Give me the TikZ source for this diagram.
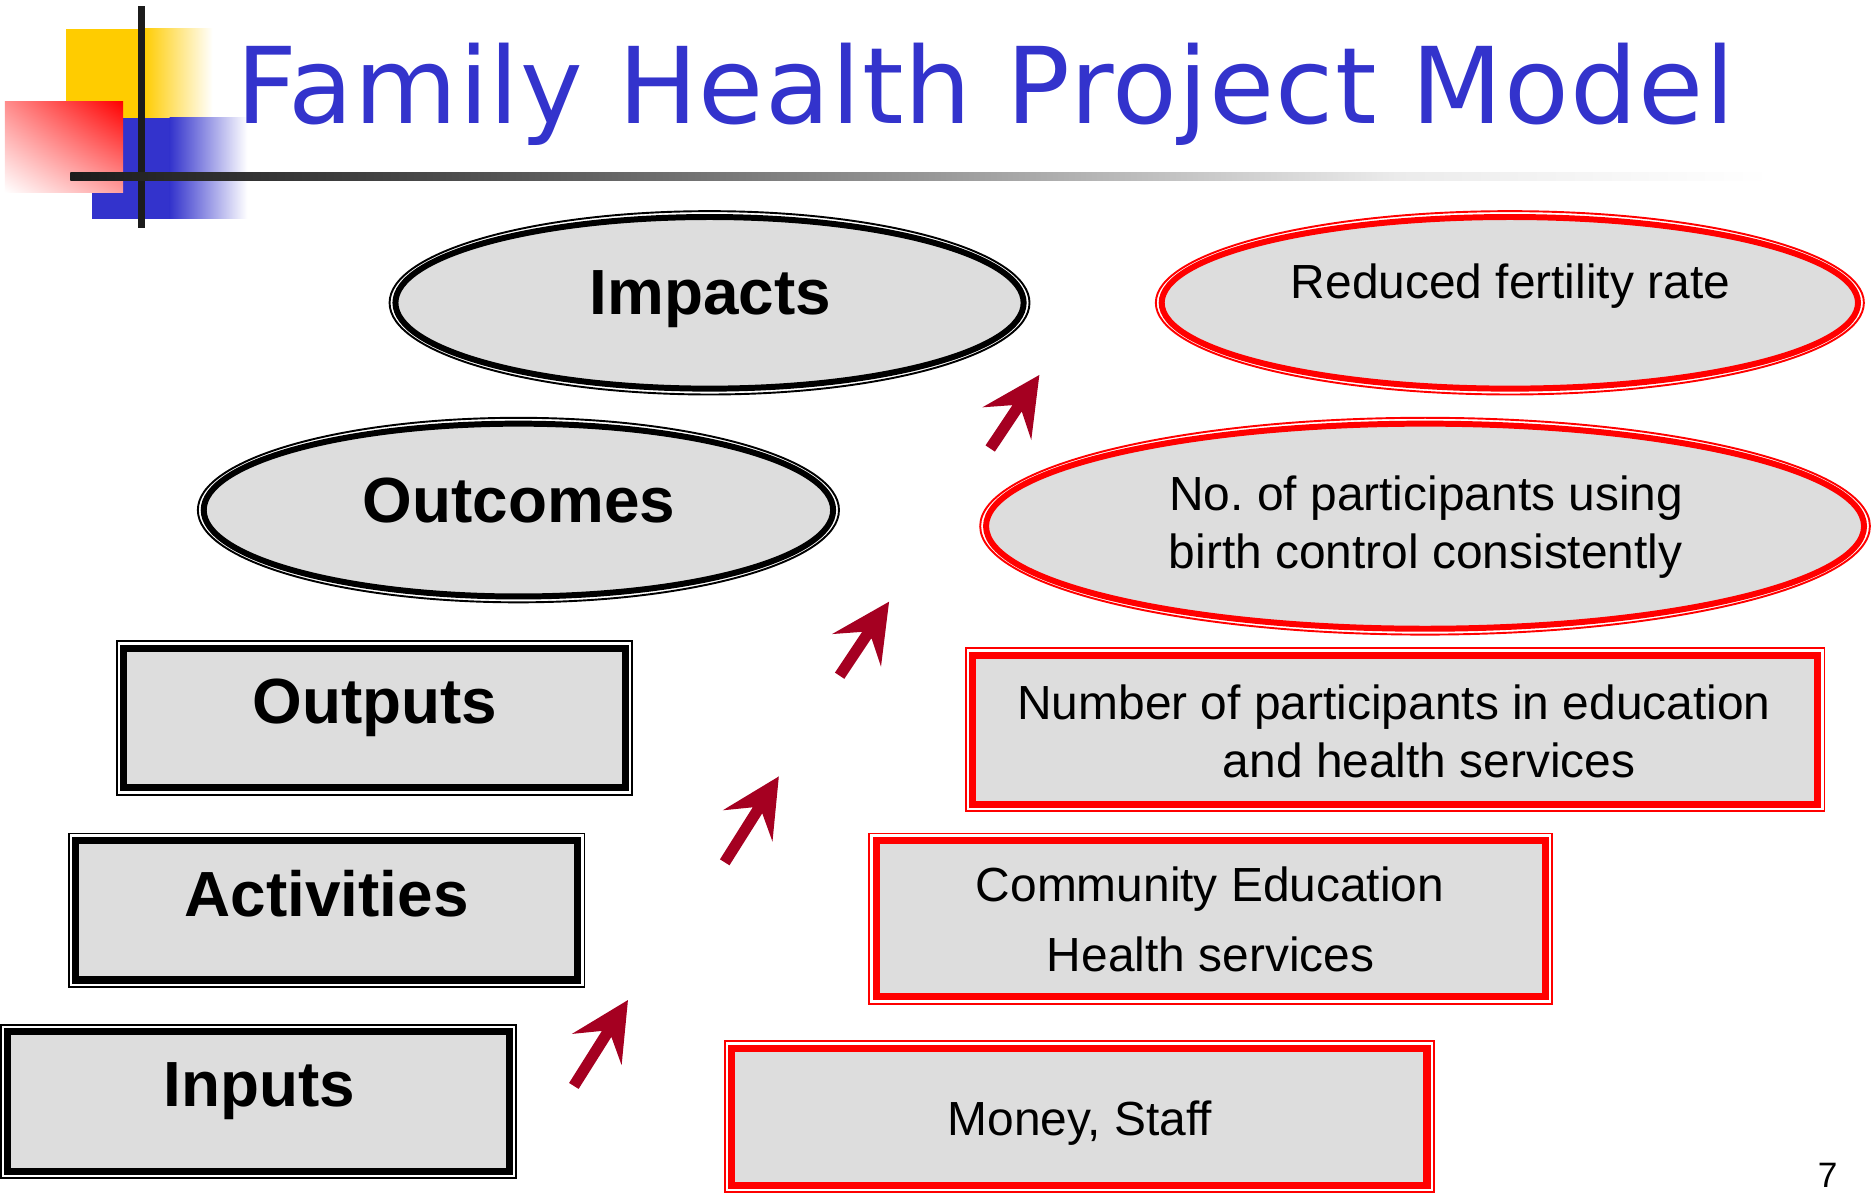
\documentclass[tikz,border=0pt]{standalone}
\usepackage{fontspec}
\setmainfont{Liberation Sans}
\newfontfamily\titlefont[LetterSpace=1.2]{DejaVu Sans}
\usetikzlibrary{shapes.geometric,shadings}
\frenchspacing
\definecolor{titleblue}{HTML}{3333CC}
\definecolor{boxgray}{HTML}{DDDDDD}
\definecolor{arrowred}{HTML}{A50021}
\definecolor{logoyellow}{HTML}{FFCC00}
\definecolor{logoblue}{HTML}{3333CC}
\definecolor{barblack}{HTML}{1C1C1C}
\definecolor{hlzero}{HTML}{1C1C1C}
\definecolor{hlone}{HTML}{464646}
\definecolor{hltwo}{HTML}{969696}
\definecolor{hlthree}{HTML}{EBEBEB}
\pgfdeclarehorizontalshading{hfade}{100bp}{color(0bp)=(hlzero); color(25bp)=(hlzero); color(35bp)=(hlone); color(50bp)=(hltwo); color(64bp)=(hlthree); color(75bp)=(white); color(100bp)=(white)}
\tikzset{
  blackell/.style={ellipse, draw=black, line width=0.05cm, fill=boxgray, inner sep=0pt, outer sep=0pt},
  redell/.style={ellipse, draw=red, line width=0.05cm, fill=boxgray, inner sep=0pt, outer sep=0pt},
  blackbox/.style={rectangle, draw=black, line width=0.06cm, fill=boxgray, inner sep=0pt, outer sep=0pt},
  redbox/.style={rectangle, draw=red, line width=0.06cm, fill=boxgray, inner sep=0pt, outer sep=0pt},
  thinblack/.style={draw=black, line width=0.016cm},
  thinred/.style={draw=red, line width=0.016cm},
  labeltext/.style={font=\fontsize{15.2pt}{18pt}\selectfont\bfseries, inner sep=0pt, anchor=base},
  bodytext/.style={font=\fontsize{11.4pt}{14pt}\selectfont, inner sep=0pt, anchor=base},
  blockarrowfill/.style={fill=arrowred}
}
\begin{document}
\begin{tikzpicture}[x=0.01cm, y=-0.01cm]
\useasboundingbox (0,0) rectangle (1568,999);
\fill[white] (0,0) rectangle (1568,999);

% logo
\fill[logoyellow] (55,24) rectangle (120.5,98.5);
\shade[left color=logoyellow, right color=white] (120,24) rectangle (178,98.5);
\fill[logoblue] (77,98.5) rectangle (142.5,183);
\shade[left color=logoblue, right color=white] (142,98.5) rectangle (207,183);
\shade[upper left=red!45, upper right=red, lower left=white, lower right=red!38] (4,85) rectangle (103,161);
\fill[barblack] (115.5,5) rectangle (121.5,191);
\shade[shading=hfade] (59,144) rectangle (1482,150.7);

% title
\node[anchor=base west, inner sep=0pt, text=titleblue, font=\titlefont\fontsize{25.2pt}{30pt}\selectfont] (title) at (197,103) {Family Health Project Model};

% left column
\node[blackell, minimum width=5.256cm, minimum height=1.436cm] (impacts) at (594,253.5) {};
\draw[thinblack] (impacts.center) ellipse [x radius=2.677cm, y radius=0.767cm];
\node[labeltext] (impactstext) at (594.5,263) {Impacts};

\node[blackell, minimum width=5.266cm, minimum height=1.446cm] (outcomes) at (434,427) {};
\draw[thinblack] (outcomes.center) ellipse [x radius=2.682cm, y radius=0.772cm];
\node[labeltext] (outcomestext) at (434.5,437) {Outcomes};

\node[blackbox, minimum width=4.198cm, minimum height=1.168cm] (outputs) at (313.5,601) {};
\draw[thinblack] ([shift={(-5.8,5.8)}]outputs.south west) rectangle ([shift={(5.8,-5.8)}]outputs.north east);
\node[labeltext] (outputstext) at (314,606) {Outputs};

\node[blackbox, minimum width=4.198cm, minimum height=1.168cm] (activities) at (273.5,762) {};
\draw[thinblack] ([shift={(-5.8,5.8)}]activities.south west) rectangle ([shift={(5.8,-5.8)}]activities.north east);
\node[labeltext] (activitiestext) at (273.5,767) {Activities};

\node[blackbox, minimum width=4.198cm, minimum height=1.168cm] (inputs) at (216.5,922) {};
\draw[thinblack] ([shift={(-5.8,5.8)}]inputs.south west) rectangle ([shift={(5.8,-5.8)}]inputs.north east);
\node[labeltext] (inputstext) at (217,926) {Inputs};

% right column
\node[redell, minimum width=5.826cm, minimum height=1.436cm] (fert) at (1264,253.5) {};
\draw[thinred] (fert.center) ellipse [x radius=2.962cm, y radius=0.767cm];
\node[bodytext] (ferttext) at (1264.5,250) {Reduced fertility rate};

\node[redell, minimum width=7.346cm, minimum height=1.716cm] (birth) at (1193,440.5) {};
\draw[thinred] (birth.center) ellipse [x radius=3.722cm, y radius=0.907cm];
\node[bodytext] (birthtexta) at (1194,427) {No. of participants using};
\node[bodytext] (birthtextb) at (1193.5,476) {birth control consistently};

\node[redbox, minimum width=7.068cm, minimum height=1.248cm] (number) at (1168,611) {};
\draw[thinred] ([shift={(-5.8,5.8)}]number.south west) rectangle ([shift={(5.8,-5.8)}]number.north east);
\node[bodytext] (numbertexta) at (1167,602) {Number of participants in education};
\node[bodytext] (numbertextb) at (1196.5,651) {and health services};

\node[redbox, minimum width=5.598cm, minimum height=1.308cm] (community) at (1013.5,769) {};
\draw[thinred] ([shift={(-5.8,5.8)}]community.south west) rectangle ([shift={(5.8,-5.8)}]community.north east);
\node[bodytext] (communitytexta) at (1013,755) {Community Education};
\node[bodytext] (communitytextb) at (1013.5,813) {Health services};

\node[redbox, minimum width=5.818cm, minimum height=1.148cm] (money) at (903.5,935) {};
\draw[thinred] ([shift={(-5.8,5.8)}]money.south west) rectangle ([shift={(5.8,-5.8)}]money.north east);
\node[bodytext] (moneytext) at (904,951) {Money, Staff};

% block arrows
\begin{scope}[shift={(525.7,837.2)}, x={(0.00533cm,0.00846cm)}, y={(0.00846cm,-0.00533cm)}]
  \fill[blockarrowfill] (0,0) -- (-49,24.6) -- (-33.5,4.7) -- (-85,4.7) -- (-85,-4.7) -- (-33.5,-4.7) -- (-49,-24.6) -- cycle;
\end{scope}
\begin{scope}[shift={(652,650)}, x={(0.00533cm,0.00846cm)}, y={(0.00846cm,-0.00533cm)}]
  \fill[blockarrowfill] (0,0) -- (-49,24.6) -- (-33.5,4.7) -- (-85,4.7) -- (-85,-4.7) -- (-33.5,-4.7) -- (-49,-24.6) -- cycle;
\end{scope}
\begin{scope}[shift={(744.3,503.7)}, x={(0.00556cm,0.00831cm)}, y={(0.00831cm,-0.00556cm)}]
  \fill[blockarrowfill] (0,0) -- (-49,24.6) -- (-33.5,4.7) -- (-74.5,4.7) -- (-74.5,-4.7) -- (-33.5,-4.7) -- (-49,-24.6) -- cycle;
\end{scope}
\begin{scope}[shift={(870.1,313.9)}, x={(0.00556cm,0.00831cm)}, y={(0.00831cm,-0.00556cm)}]
  \fill[blockarrowfill] (0,0) -- (-49,24.6) -- (-33.5,4.7) -- (-74,4.7) -- (-74,-4.7) -- (-33.5,-4.7) -- (-49,-24.6) -- cycle;
\end{scope}

% page number
\node[anchor=base, inner sep=0pt, font=\fontsize{8.4pt}{10pt}\selectfont] (pagenum) at (1530,994) {7};
\end{tikzpicture}
\end{document}
